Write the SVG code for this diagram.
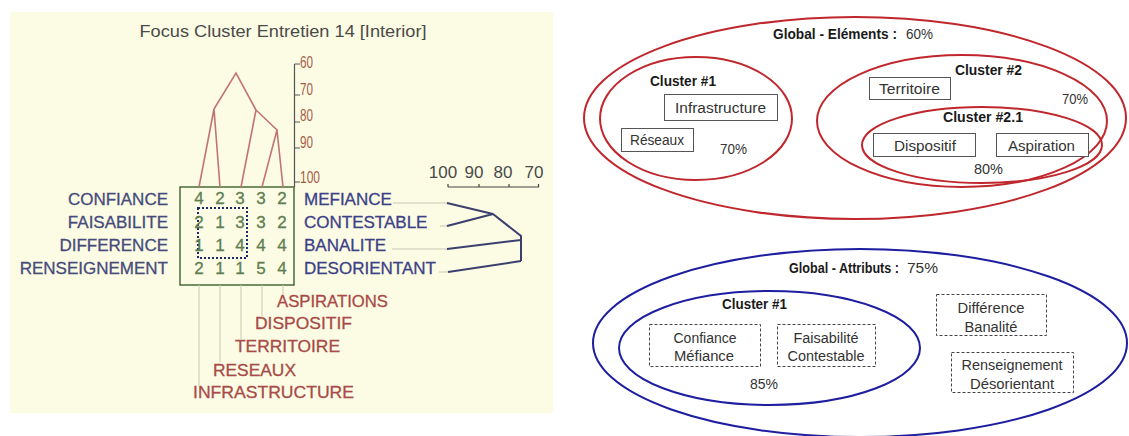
<svg xmlns="http://www.w3.org/2000/svg" width="1129" height="436" viewBox="0 0 1129 436">
<style>
.lt{font-family:"Liberation Sans",Arial,sans-serif;font-size:17px}
.lbl{fill:#464b7c;stroke:#464b7c;stroke-width:0.3}
.rlbl{fill:#3c4188;stroke:#3c4188;stroke-width:0.3}
.num{fill:#607e52;stroke:#607e52;stroke-width:0.3;text-anchor:middle}
.bot{fill:#a84a48;stroke:#a84a48;stroke-width:0.3}
.sc{fill:#a85a48;font-size:17px}
.dr{stroke:#c27470;stroke-width:1.6;fill:none}
.dn{stroke:#3c3f6e;stroke-width:2;fill:none}
.gl{stroke:#c9c9b5;stroke-width:1;fill:none}
.rt{font-family:"Liberation Sans",Arial,sans-serif;font-size:15.5px;fill:#333}
.b{font-weight:bold;fill:#1a1a1a}
.c{text-anchor:middle}
.re{fill:none;stroke:#c0272d;stroke-width:2}
.be{fill:none;stroke:#1e1ea0;stroke-width:2}
.box{fill:#fff;stroke:#555;stroke-width:1}
.dbox{fill:#fff;stroke:#444;stroke-width:1;stroke-dasharray:3 2}
</style>
<rect width="1129" height="436" fill="#fff"/>
<g id="left-panel">
<rect x="10" y="12" width="543" height="401" fill="#fcfce4"/>
<text class="lt" x="283" y="37" text-anchor="middle" fill="#4a4a4a" font-size="18" textLength="287" lengthAdjust="spacingAndGlyphs">Focus Cluster Entretien 14 [Interior]</text>
</g>
<g id="grid">
<rect x="180" y="187" width="114" height="98" fill="none" stroke="#4a6a3a" stroke-width="1.5"/>
<rect x="198" y="208" width="49" height="50" fill="none" stroke="#1c2a6a" stroke-width="2" stroke-dasharray="2 2"/>
<g class="lt num">
<text x="199" y="204">4</text><text x="220" y="204">2</text><text x="240" y="204">3</text><text x="261" y="204">3</text><text x="282" y="204">2</text>
<text x="199" y="228">2</text><text x="220" y="228">1</text><text x="240" y="228">3</text><text x="261" y="228">3</text><text x="282" y="228">2</text>
<text x="199" y="251">1</text><text x="220" y="251">1</text><text x="240" y="251">4</text><text x="261" y="251">4</text><text x="282" y="251">4</text>
<text x="199" y="274">2</text><text x="220" y="274">1</text><text x="240" y="274">1</text><text x="261" y="274">5</text><text x="282" y="274">4</text>
</g>
</g>
<g id="row-labels-left" class="lt lbl" text-anchor="end">
<text x="168" y="205">CONFIANCE</text>
<text x="168" y="228">FAISABILITE</text>
<text x="168" y="251">DIFFERENCE</text>
<text x="168" y="274">RENSEIGNEMENT</text>
</g>
<g id="row-labels-right" class="lt rlbl">
<text x="304" y="205">MEFIANCE</text>
<text x="304" y="228">CONTESTABLE</text>
<text x="304" y="251">BANALITE</text>
<text x="304" y="274">DESORIENTANT</text>
</g>
<g id="column-labels" class="lt bot">
<text x="277" y="307" textLength="111" lengthAdjust="spacingAndGlyphs">ASPIRATIONS</text>
<text x="255" y="329" textLength="97" lengthAdjust="spacingAndGlyphs">DISPOSITIF</text>
<text x="235" y="352" textLength="105" lengthAdjust="spacingAndGlyphs">TERRITOIRE</text>
<text x="213" y="376" textLength="83" lengthAdjust="spacingAndGlyphs">RESEAUX</text>
<text x="193" y="398" textLength="161" lengthAdjust="spacingAndGlyphs">INFRASTRUCTURE</text>
</g>
<g id="scale-vertical">
<path d="M294.5 64 V187 M294.5 64 H300 M294.5 95 H300 M294.5 122 H300 M294.5 148 H300 M294.5 182 H300" stroke="#555" stroke-width="1.2" fill="none"/>
<g class="lt sc">
<text x="300" y="68" textLength="13" lengthAdjust="spacingAndGlyphs">60</text>
<text x="300" y="95" textLength="13" lengthAdjust="spacingAndGlyphs">70</text>
<text x="300" y="121" textLength="13" lengthAdjust="spacingAndGlyphs">80</text>
<text x="300" y="148" textLength="13" lengthAdjust="spacingAndGlyphs">90</text>
<text x="300" y="183" textLength="20" lengthAdjust="spacingAndGlyphs">100</text>
</g>
</g>
<g id="scale-horizontal">
<g class="lt" fill="#4a4a4a" text-anchor="middle">
<text x="443" y="178">100</text><text x="474" y="178">90</text><text x="503" y="178">80</text><text x="534" y="178">70</text>
</g>
<path d="M448 187 H539 M448 187 V184 M479 187 V184 M509 187 V184 M538.5 187 V184" stroke="#444" stroke-width="1.2" fill="none"/>
</g>
<g id="connectors">
<path class="dr" d="M199 187 L214 109 L220 187 M214 109 L236 73 L256 110 L241 187 M256 110 L277 130 L262 187 M277 130 L283 187"/>
<path class="gl" d="M199 285 V386 M220 285 V362 M241 285 V339 M262 285 V316 M283 285 V295"/>
<path class="gl" d="M393 203 H447 M440 226 H447 M392 249 H447 M439 272 H448"/>
<path class="dn" d="M447 203 L493 214 L447 226 M493 214 L521 236 V261 M447 249 L521 240 M448 272 L521 261"/>
</g>
<g id="global-elements">
<ellipse class="re" cx="855" cy="118" rx="271" ry="101"/>
<text class="rt b" x="773" y="39" font-size="13" textLength="124" lengthAdjust="spacingAndGlyphs">Global - Eléments :</text>
<text class="rt" x="906" y="39" textLength="27" lengthAdjust="spacingAndGlyphs">60%</text>
</g>
<g id="cluster-1-elements">
<ellipse class="re" cx="696" cy="118.5" rx="96" ry="61.5"/>
<text class="rt b" x="650" y="86" textLength="66" lengthAdjust="spacingAndGlyphs">Cluster #1</text>
<text class="rt" x="720" y="154" textLength="27" lengthAdjust="spacingAndGlyphs">70%</text>
</g>
<g id="node-infrastructure">
<rect class="box" x="664.5" y="94.5" width="113" height="26"/>
<text class="rt" x="675" y="113" textLength="91" lengthAdjust="spacingAndGlyphs">Infrastructure</text>
</g>
<g id="node-reseaux">
<rect class="box" x="621.5" y="128.5" width="72" height="23"/>
<text class="rt" x="630" y="145" textLength="54" lengthAdjust="spacingAndGlyphs">Réseaux</text>
</g>
<g id="cluster-2">
<ellipse class="re" cx="962" cy="121" rx="145" ry="66"/>
<text class="rt b" x="955" y="75" textLength="67" lengthAdjust="spacingAndGlyphs">Cluster #2</text>
<text class="rt" x="1062" y="104" textLength="26" lengthAdjust="spacingAndGlyphs">70%</text>
</g>
<g id="node-territoire">
<rect class="box" x="869.5" y="77.5" width="81" height="22"/>
<text class="rt" x="879" y="94" textLength="61" lengthAdjust="spacingAndGlyphs">Territoire</text>
</g>
<g id="cluster-2-1">
<ellipse class="re" cx="982" cy="145" rx="120" ry="38"/>
<text class="rt b" x="943" y="122" textLength="80" lengthAdjust="spacingAndGlyphs">Cluster #2.1</text>
<text class="rt" x="974" y="174" textLength="29" lengthAdjust="spacingAndGlyphs">80%</text>
</g>
<g id="node-dispositif">
<rect class="box" x="873.5" y="133.5" width="102" height="23"/>
<text class="rt" x="894" y="151" textLength="62" lengthAdjust="spacingAndGlyphs">Dispositif</text>
</g>
<g id="node-aspiration">
<rect class="box" x="996.5" y="133.5" width="92" height="23"/>
<text class="rt" x="1008" y="151" textLength="67" lengthAdjust="spacingAndGlyphs">Aspiration</text>
</g>
<g id="global-attributs">
<ellipse class="be" cx="860" cy="343" rx="267" ry="94"/>
<text class="rt b" x="789" y="273" font-size="12.2" textLength="110" lengthAdjust="spacingAndGlyphs">Global - Attributs :</text>
<text class="rt" x="907" y="273" textLength="31" lengthAdjust="spacingAndGlyphs">75%</text>
</g>
<g id="cluster-1-attributs">
<ellipse class="be" cx="769.5" cy="348" rx="150.5" ry="57"/>
<text class="rt b" x="722" y="309" textLength="65" lengthAdjust="spacingAndGlyphs">Cluster #1</text>
<text class="rt" x="750" y="389" textLength="28" lengthAdjust="spacingAndGlyphs">85%</text>
</g>
<g id="node-confiance-mefiance">
<rect class="dbox" x="649.5" y="324.5" width="111" height="42"/>
<text class="rt c" x="705" y="343" textLength="63" lengthAdjust="spacingAndGlyphs">Confiance</text>
<text class="rt c" x="704" y="361" textLength="60" lengthAdjust="spacingAndGlyphs">Méfiance</text>
</g>
<g id="node-faisabilite-contestable">
<rect class="dbox" x="777.5" y="324.5" width="98" height="42"/>
<text class="rt c" x="826" y="343" textLength="65" lengthAdjust="spacingAndGlyphs">Faisabilité</text>
<text class="rt c" x="826" y="361" textLength="77" lengthAdjust="spacingAndGlyphs">Contestable</text>
</g>
<g id="node-difference-banalite">
<rect class="dbox" x="936.5" y="294.5" width="110" height="41"/>
<text class="rt c" x="991" y="313" textLength="67" lengthAdjust="spacingAndGlyphs">Différence</text>
<text class="rt c" x="991" y="332" textLength="53" lengthAdjust="spacingAndGlyphs">Banalité</text>
</g>
<g id="node-renseignement-desorientant">
<rect class="dbox" x="951.5" y="352.5" width="122" height="40"/>
<text class="rt c" x="1012" y="370" textLength="101" lengthAdjust="spacingAndGlyphs">Renseignement</text>
<text class="rt c" x="1012" y="389" textLength="84" lengthAdjust="spacingAndGlyphs">Désorientant</text>
</g>
</svg>
